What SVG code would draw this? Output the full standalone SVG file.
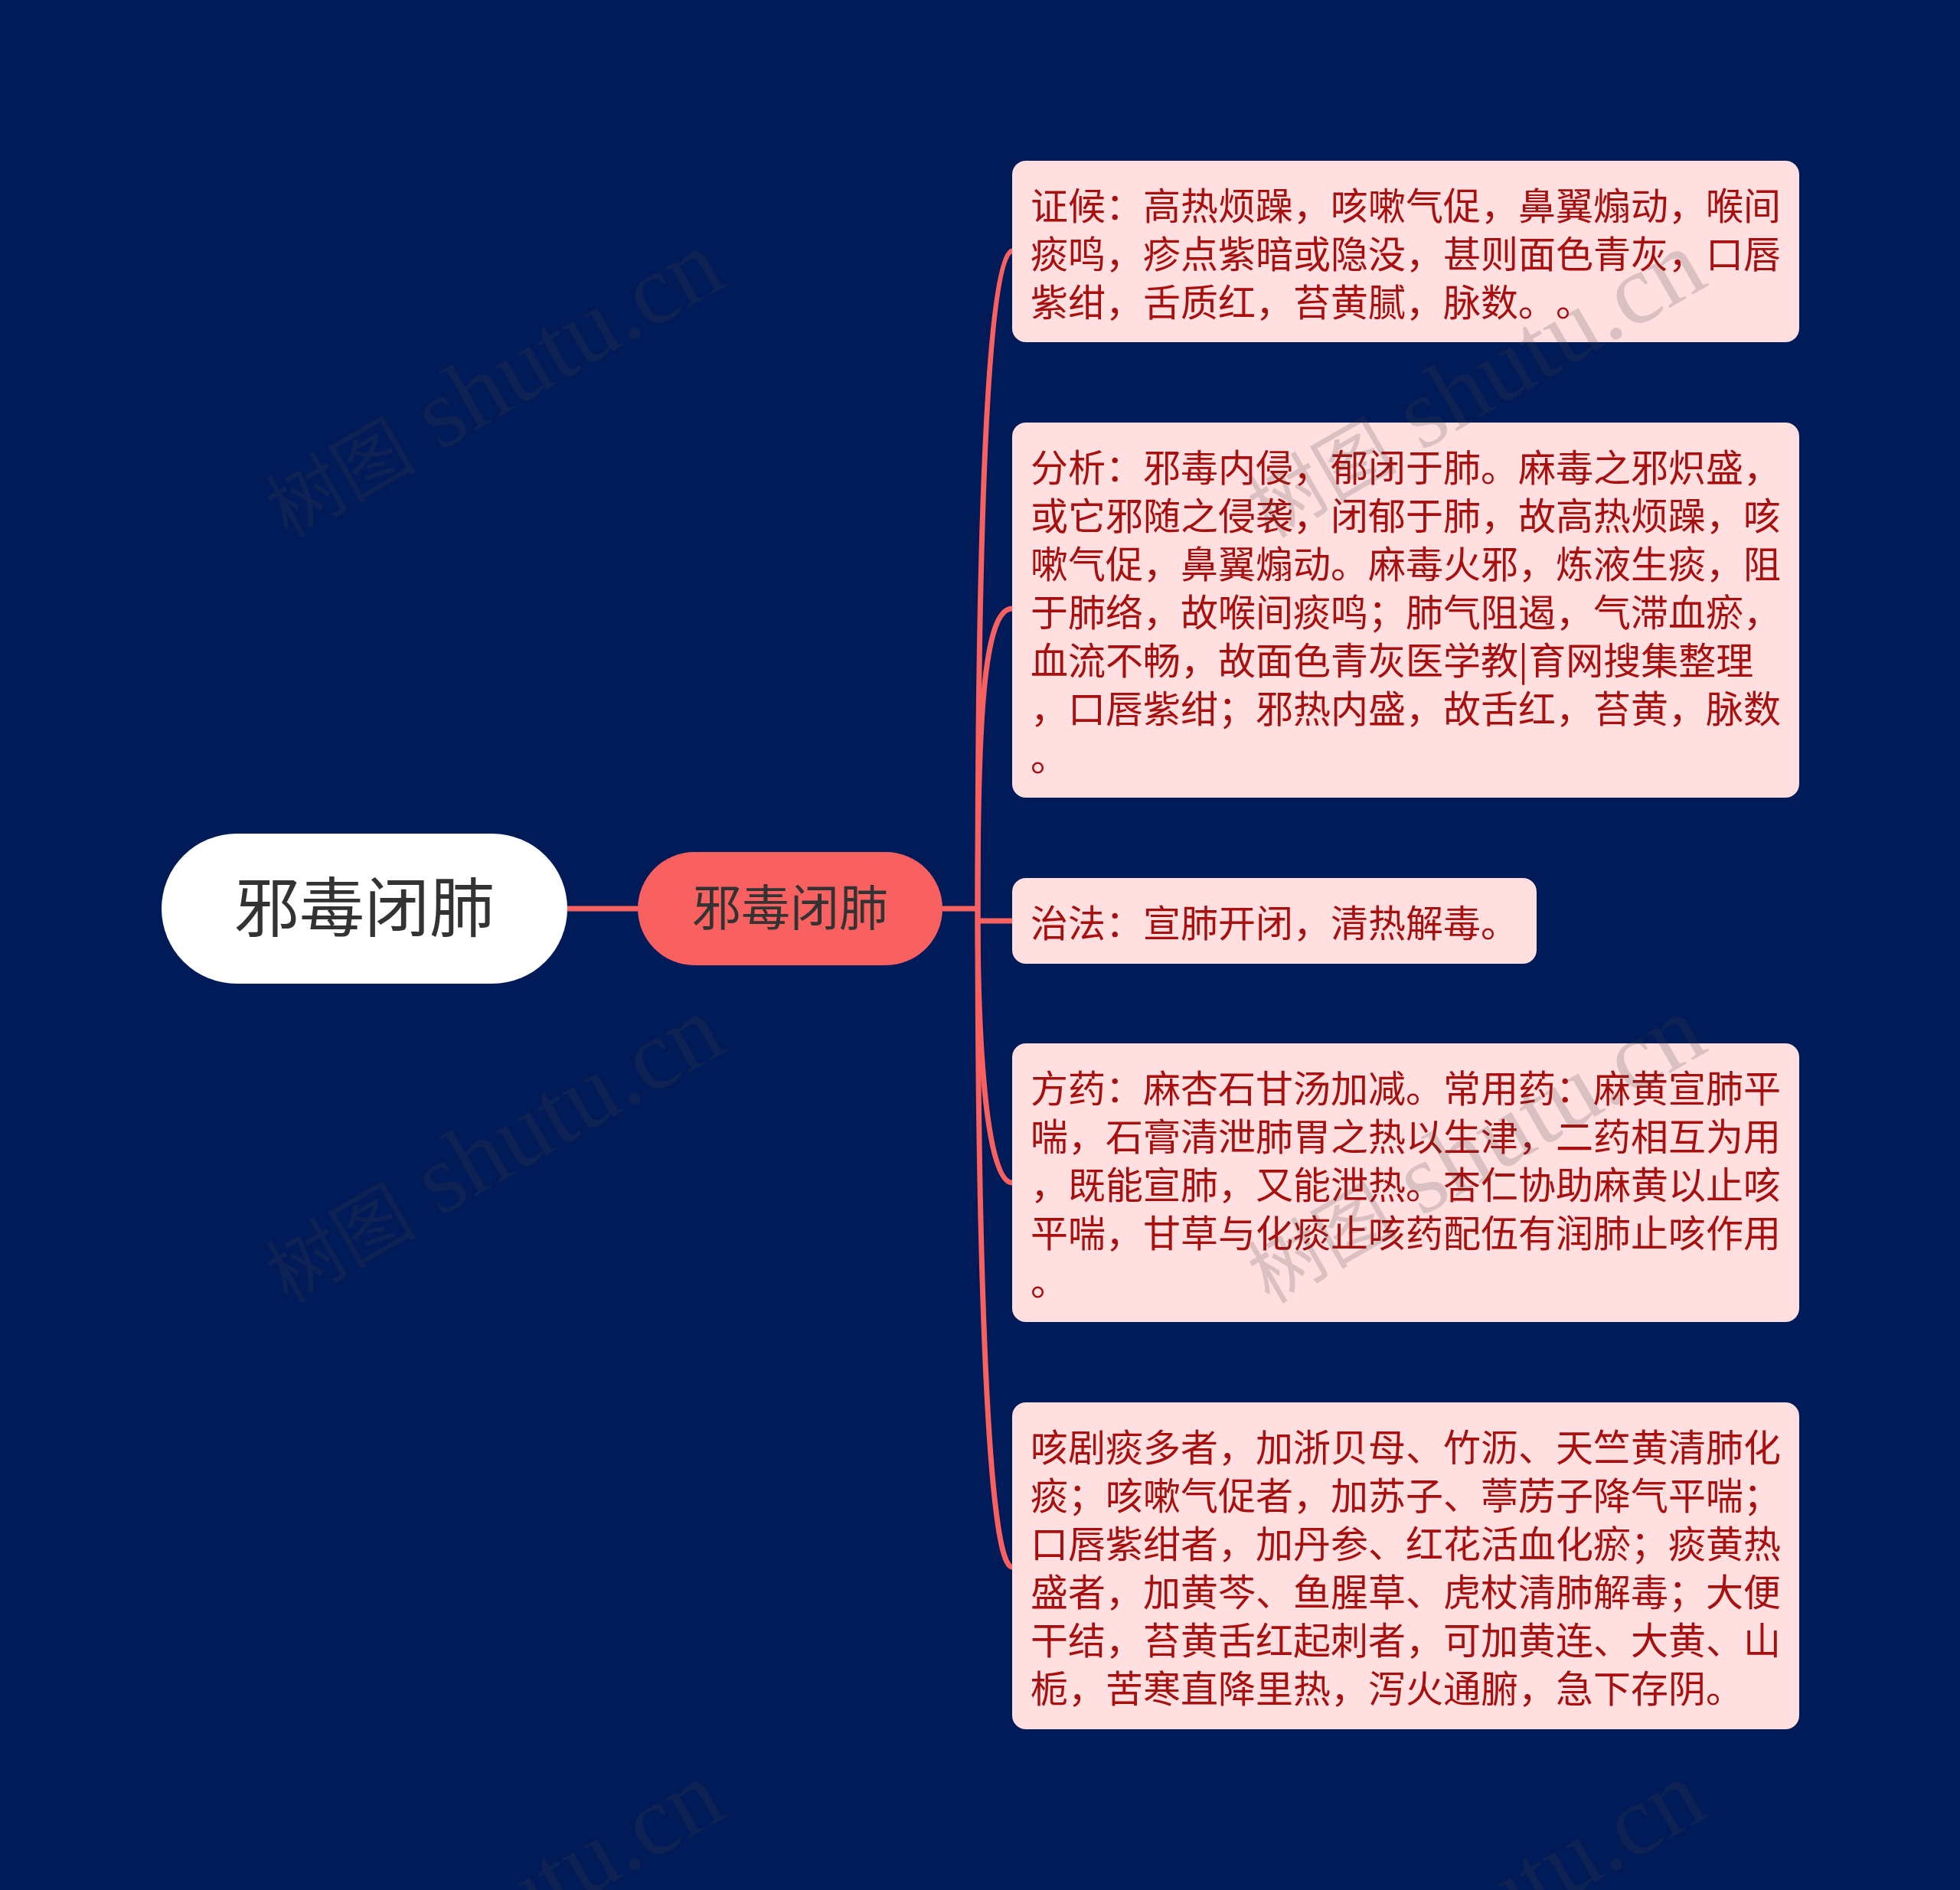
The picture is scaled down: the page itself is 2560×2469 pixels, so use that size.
<svg xmlns="http://www.w3.org/2000/svg" width="2560" height="2469" viewBox="0 0 2560 2469">
<style>
text{font-family:"Noto Sans CJK SC","Noto Sans",sans-serif;text-spacing-trim:space-all}
.box{fill:#ffdfdf}
.t{font-size:49px;fill:#a80f0f}
.c{fill:none;stroke:#f96060;stroke-width:7}
.ct{fill:#333;text-anchor:middle}
.wm{font-family:"Liberation Serif","Noto Sans CJK SC",serif;font-size:130px;fill:#444;fill-opacity:.2}
.wm tspan{font-size:98px}
</style>
<rect width="2560" height="2469" fill="#011a58"/>
<g id="connectors">
<path class="c" d="M741 1187H833"/>
<path class="c" d="M1231 1187H1277"/>
<path class="c" d="M1277 1187C1277 800 1285 328 1322 328"/>
<path class="c" d="M1277 1187C1277 950 1284 795 1322 795"/>
<path class="c" d="M1277 1203H1322"/>
<path class="c" d="M1277 1187C1277 1350 1287 1545 1322 1545"/>
<path class="c" d="M1277 1187C1277 1650 1290 2047 1322 2047"/>
</g>
<g id="root"><rect x="211" y="1089" width="530" height="196" rx="98" fill="#fff"/><text class="ct" x="476" y="1217" font-size="85">邪毒闭肺</text></g>
<g id="sub"><rect x="833" y="1113" width="398" height="148" rx="74" fill="#f96060"/><text class="ct" x="1032" y="1209" font-size="64">邪毒闭肺</text></g>
<g id="n1"><rect class="box" x="1322" y="210" width="1028" height="237" rx="18"/>
<text class="t" x="1346" y="286.500">证候：高热烦躁，咳嗽气促，鼻翼煽动，喉间</text>
<text class="t" x="1346" y="349.500">痰鸣，疹点紫暗或隐没，甚则面色青灰，口唇</text>
<text class="t" x="1346" y="412.500">紫绀，舌质红，苔黄腻，脉数。。</text></g>
<g id="n2"><rect class="box" x="1322" y="552" width="1028" height="490" rx="18"/>
<text class="t" x="1346" y="628.500">分析：邪毒内侵，郁闭于肺。麻毒之邪炽盛，</text>
<text class="t" x="1346" y="691.500">或它邪随之侵袭，闭郁于肺，故高热烦躁，咳</text>
<text class="t" x="1346" y="754.500">嗽气促，鼻翼煽动。麻毒火邪，炼液生痰，阻</text>
<text class="t" x="1346" y="817.500">于肺络，故喉间痰鸣；肺气阻遏，气滞血瘀，</text>
<text class="t" x="1346" y="880.500">血流不畅，故面色青灰医学教|育网搜集整理</text>
<text class="t" x="1346" y="943.500">，口唇紫绀；邪热内盛，故舌红，苔黄，脉数</text>
<text class="t" x="1346" y="1007">。</text></g>
<g id="n3"><rect class="box" x="1322" y="1147" width="685" height="112" rx="18"/>
<text class="t" x="1346" y="1223.500">治法：宣肺开闭，清热解毒。</text></g>
<g id="n4"><rect class="box" x="1322" y="1363" width="1028" height="364" rx="18"/>
<text class="t" x="1346" y="1439.500">方药：麻杏石甘汤加减。常用药：麻黄宣肺平</text>
<text class="t" x="1346" y="1502.500">喘，石膏清泄肺胃之热以生津，二药相互为用</text>
<text class="t" x="1346" y="1565.500">，既能宣肺，又能泄热。杏仁协助麻黄以止咳</text>
<text class="t" x="1346" y="1628.500">平喘，甘草与化痰止咳药配伍有润肺止咳作用</text>
<text class="t" x="1346" y="1692">。</text></g>
<g id="n5"><rect class="box" x="1322" y="1832" width="1028" height="427" rx="18"/>
<text class="t" x="1346" y="1908.500">咳剧痰多者，加浙贝母、竹沥、天竺黄清肺化</text>
<text class="t" x="1346" y="1971.500">痰；咳嗽气促者，加苏子、葶苈子降气平喘；</text>
<text class="t" x="1346" y="2034.500">口唇紫绀者，加丹参、红花活血化瘀；痰黄热</text>
<text class="t" x="1346" y="2097.500">盛者，加黄芩、鱼腥草、虎杖清肺解毒；大便</text>
<text class="t" x="1346" y="2160.500">干结，苔黄舌红起刺者，可加黄连、大黄、山</text>
<text class="t" x="1346" y="2223.500">栀，苦寒直降里热，泻火通腑，急下存阴。</text></g>
<g id="watermarks">
<text class="wm" transform="translate(376 704) rotate(-30)"><tspan>树图</tspan> shutu.cn</text>
<text class="wm" transform="translate(1658 704) rotate(-30)"><tspan>树图</tspan> shutu.cn</text>
<text class="wm" transform="translate(376 1704) rotate(-30)"><tspan>树图</tspan> shutu.cn</text>
<text class="wm" transform="translate(1658 1704) rotate(-30)"><tspan>树图</tspan> shutu.cn</text>
<text class="wm" transform="translate(376 2704) rotate(-30)"><tspan>树图</tspan> shutu.cn</text>
<text class="wm" transform="translate(1658 2704) rotate(-30)"><tspan>树图</tspan> shutu.cn</text>
</g>
</svg>
